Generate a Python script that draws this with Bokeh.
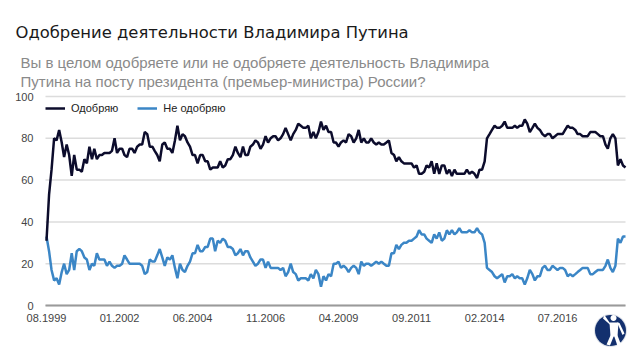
import numpy as np
import pandas as pd
from bokeh.plotting import figure
from bokeh.models import (Range1d, FixedTicker, DatetimeTickFormatter, Legend, LegendItem,
                          Label, PolyAnnotation, BoxAnnotation, ColumnDataSource)
from bokeh.embed import file_html
from bokeh.resources import INLINE

# ---------------- data (monthly, from 08.1999) ----------------
start_month = "1999-08-01"

approve_1999 = [31, 53, 65, 80, 79]
approve_2000 = [84, 78, 71, 77, 72, 62, 72, 65, 65, 64, 70, 68]
approve_2001 = [76, 70, 75, 70, 72, 72, 73, 73, 73, 74, 80, 73]
approve_2002 = [75, 75, 72, 71, 75, 75, 73, 76, 77, 77, 83, 82]
approve_2003 = [76, 76, 74, 72, 69, 77, 78, 75, 75, 73, 79, 86]
approve_2004 = [79, 82, 81, 78, 76, 72, 72, 68, 72, 72, 69, 69]
approve_2005 = [65, 66, 66, 66, 69, 66, 67, 70, 70, 72, 76, 73]
approve_2006 = [71, 76, 72, 72, 76, 77, 79, 78, 75, 77, 81, 78]
approve_2007 = [80, 81, 81, 79, 80, 82, 85, 82, 79, 82, 84, 87]
approve_2008 = [86, 85, 85, 86, 80, 83, 80, 83, 88, 84, 86, 83]
approve_2009 = [83, 78, 78, 76, 78, 79, 78, 82, 81, 78, 80, 84]
approve_2010 = [78, 80, 78, 78, 80, 78, 77, 78, 77, 77, 78, 79]
approve_2011 = [73, 72, 69, 71, 69, 68, 68, 68, 68, 66, 67, 63]
approve_2012 = [63, 64, 67, 66, 69, 63, 68, 63, 67, 67, 63, 65]
approve_2013 = [62, 65, 63, 63, 63, 63, 65, 63, 64, 63, 61, 65]
approve_2014 = [65, 69, 80, 82, 84, 86, 85, 85, 86, 88, 85, 85]
approve_2015 = [85, 86, 85, 86, 86, 89, 87, 83, 85, 87, 85, 84]
approve_2016 = [82, 81, 82, 82, 80, 81, 82, 82, 82, 84, 86, 85]
approve_2017 = [85, 84, 82, 82, 81, 81, 81, 83, 83, 83, 82, 81]
approve_2018 = [81, 77, 75, 80, 82, 80, 67, 70, 67, 66]

disapprove_1999 = [33, 26, 17, 12, 13]
disapprove_2000 = [10, 16, 20, 15, 17, 25, 17, 26, 27, 26, 23, 22]
disapprove_2001 = [17, 20, 19, 25, 22, 22, 22, 19, 21, 19, 18, 19]
disapprove_2002 = [19, 20, 24, 22, 20, 20, 20, 20, 20, 19, 15, 16]
disapprove_2003 = [22, 21, 21, 24, 27, 23, 19, 23, 22, 24, 18, 13]
disapprove_2004 = [20, 17, 16, 19, 21, 25, 25, 29, 26, 26, 28, 28]
disapprove_2005 = [32, 32, 26, 31, 30, 32, 31, 28, 28, 27, 24, 25]
disapprove_2006 = [27, 24, 26, 26, 23, 21, 19, 20, 22, 22, 18, 21]
disapprove_2007 = [18, 18, 18, 18, 17, 18, 14, 16, 20, 16, 15, 12]
disapprove_2008 = [13, 13, 13, 12, 15, 13, 17, 15, 9, 14, 12, 15]
disapprove_2009 = [14, 20, 20, 21, 18, 19, 18, 16, 18, 19, 18, 15]
disapprove_2010 = [21, 19, 20, 20, 19, 20, 21, 20, 21, 20, 19, 19]
disapprove_2011 = [25, 25, 29, 27, 29, 30, 30, 31, 31, 32, 33, 36]
disapprove_2012 = [34, 34, 32, 31, 30, 34, 32, 35, 31, 32, 36, 34]
disapprove_2013 = [36, 34, 35, 37, 35, 35, 35, 36, 35, 35, 37, 35]
disapprove_2014 = [34, 30, 18, 17, 16, 14, 13, 14, 15, 11, 14, 14]
disapprove_2015 = [15, 13, 14, 13, 13, 10, 13, 17, 15, 12, 14, 14]
disapprove_2016 = [18, 19, 17, 17, 19, 18, 17, 18, 18, 17, 14, 15]
disapprove_2017 = [14, 15, 16, 17, 18, 18, 18, 15, 15, 16, 17, 17]
disapprove_2018 = [17, 19, 22, 18, 16, 19, 32, 30, 33, 33]

x_tick_labels = ["08.1999", "01.2002", "06.2004", "11.2006", "04.2009",
                 "09.2011", "02.2014", "07.2016"]
y_ticks = [0, 20, 40, 60, 80, 100]

series_names = ["Одобряю", "Не одобряю"]
title_text = "Одобрение деятельности Владимира Путина"
subtitle_lines = ["Вы в целом одобряете или не одобряете деятельность Владимира",
                  "Путина на посту президента (премьер-министра) России?"]

approve = (approve_1999 + approve_2000 + approve_2001 + approve_2002 + approve_2003 +
           approve_2004 + approve_2005 + approve_2006 + approve_2007 + approve_2008 +
           approve_2009 + approve_2010 + approve_2011 + approve_2012 + approve_2013 +
           approve_2014 + approve_2015 + approve_2016 + approve_2017 + approve_2018)
disapprove = (disapprove_1999 + disapprove_2000 + disapprove_2001 + disapprove_2002 +
              disapprove_2003 + disapprove_2004 + disapprove_2005 + disapprove_2006 +
              disapprove_2007 + disapprove_2008 + disapprove_2009 + disapprove_2010 +
              disapprove_2011 + disapprove_2012 + disapprove_2013 + disapprove_2014 +
              disapprove_2015 + disapprove_2016 + disapprove_2017 + disapprove_2018)

n = min(len(approve), len(disapprove))
dates = pd.date_range(start_month, periods=n, freq="MS")
src = ColumnDataSource(dict(date=dates, approve=approve[:n], disapprove=disapprove[:n]))

# ---------------- geometry (canvas pixels) ----------------
W, H = 639, 355
PLOT_L, PLOT_R = 45, 625        # grid / axis extent
DATA_L, DATA_R = 46, 625        # first / last month
Y0_PX, Y100_PX = 305, 96        # rows of values 0 and 100

d0 = dates[0].value / 1e6
d1 = dates[-1].value / 1e6
ms_per_px = (d1 - d0) / (DATA_R - DATA_L)
x_start = d0 - DATA_L * ms_per_px
x_end = d0 + (W - DATA_L) * ms_per_px
px_per_unit = (Y0_PX - Y100_PX) / 100.0
y_top = Y0_PX / px_per_unit
y_bot = -(H - Y0_PX) / px_per_unit

# the frame fills the whole canvas; axes are pinned at the chart's edges
p = figure(width=W, height=H, x_axis_type="datetime", output_backend="svg",
           toolbar_location=None, title_location=None,
           x_range=Range1d(x_start, x_end), y_range=Range1d(y_bot, y_top),
           min_border=0, min_border_left=0, min_border_right=0,
           min_border_top=0, min_border_bottom=0)
p.outline_line_color = None
p.background_fill_color = "white"
p.border_fill_color = "white"
p.xgrid.grid_line_color = None
p.ygrid.grid_line_color = None

AX_FONT = "Liberation Sans"

# horizontal grid lines between the chart's left and right edges
for v in y_ticks:
    p.add_layout(BoxAnnotation(left=PLOT_L, right=PLOT_R, left_units="screen", right_units="screen",
                               bottom=v - 0.36, top=v + 0.36,
                               fill_color="#dcdcdc", fill_alpha=1.0, line_color=None,
                               level="underlay"))

# x axis at value 0
tick_ms = [pd.to_datetime(t, format="%m.%Y").value / 1e6 for t in x_tick_labels]
p.xaxis.fixed_location = 0
p.xaxis.bounds = (x_start + PLOT_L * ms_per_px, x_start + PLOT_R * ms_per_px)
p.xaxis.ticker = FixedTicker(ticks=tick_ms)
fmt = "%m.%Y"
p.xaxis.formatter = DatetimeTickFormatter(
    microseconds=fmt, milliseconds=fmt, seconds=fmt, minsec=fmt, minutes=fmt,
    hourmin=fmt, hours=fmt, days=fmt, months=fmt, years=fmt)
p.xaxis.axis_line_color = "#9a9a9a"
p.xaxis.axis_line_width = 2
p.xaxis.major_tick_line_color = None
p.xaxis.minor_tick_line_color = None
p.xaxis.major_tick_out = 0
p.xaxis.major_tick_in = 0
p.xaxis.major_label_standoff = 8
p.xaxis.major_label_text_font = AX_FONT
p.xaxis.major_label_text_font_size = "11px"
p.xaxis.major_label_text_color = "#444444"

# y axis at the chart's left edge
p.yaxis.fixed_location = x_start + PLOT_L * ms_per_px
p.yaxis.bounds = (0, 100)
p.yaxis.ticker = FixedTicker(ticks=y_ticks)
p.yaxis.axis_line_color = None
p.yaxis.major_tick_line_color = None
p.yaxis.minor_tick_line_color = None
p.yaxis.major_tick_out = 0
p.yaxis.major_tick_in = 0
p.yaxis.major_label_standoff = 12
p.yaxis.major_label_text_font = AX_FONT
p.yaxis.major_label_text_font_size = "11px"
p.yaxis.major_label_text_color = "#444444"

# lines
r_dis = p.line(x="date", y="disapprove", source=src, line_color="#3b86c6", line_width=2.5)
r_app = p.line(x="date", y="approve", source=src, line_color="#0c0c2c", line_width=2.5)

legend = Legend(items=[LegendItem(label=series_names[0], renderers=[r_app]),
                       LegendItem(label=series_names[1], renderers=[r_dis])],
                orientation="horizontal", location=(PLOT_L, H - 118),
                border_line_color=None, background_fill_alpha=0,
                padding=0, margin=0, spacing=19, glyph_width=20, glyph_height=20,
                label_standoff=6, label_height=20,
                label_text_font=AX_FONT, label_text_font_size="11px",
                label_text_color="#222222")
p.add_layout(legend)

# ---------------- title + subtitle ----------------
def sy(cy):
    return H - cy

p.add_layout(Label(x=15, y=sy(32), x_units="screen", y_units="screen",
                   text=title_text, text_font="DejaVu Sans", text_font_size="16.4px",
                   text_color="#1a1a1a", text_baseline="alphabetic"))
p.add_layout(Label(x=20, y=sy(62), x_units="screen", y_units="screen",
                   text=subtitle_lines[0], text_font="Liberation Sans", text_font_size="15px",
                   text_color="#8a8a8a", text_baseline="alphabetic"))
p.add_layout(Label(x=20, y=sy(81), x_units="screen", y_units="screen",
                   text=subtitle_lines[1], text_font="Liberation Sans", text_font_size="15px",
                   text_color="#8a8a8a", text_baseline="alphabetic"))

# ---------------- logo (decoration) ----------------
def poly(pts, color):
    p.add_layout(PolyAnnotation(xs=[a for a, b in pts], ys=[sy(b) for a, b in pts],
                                xs_units="screen", ys_units="screen",
                                fill_color=color, fill_alpha=1.0, line_color=None))

def circle_pts(cx, cy, r, k=40):
    t = np.linspace(0, 2 * np.pi, k, endpoint=False)
    return list(zip(cx + r * np.cos(t), cy + r * np.sin(t)))

poly(circle_pts(610, 330, 16.5), "#dfe3ea")
poly(circle_pts(610, 330, 15.5), "#13306e")
poly(circle_pts(613, 317.5, 3), "white")
poly([(609, 322), (618, 322), (617, 336), (610, 336)], "white")
poly([(610, 335), (613.5, 335), (609.5, 345), (606, 344)], "white")
poly([(613.5, 335), (617, 335), (620.5, 344), (617, 345.5)], "white")
poly([(609, 322), (611, 325.5), (602.5, 318), (604, 314.5)], "white")
poly([(616.5, 322), (619, 322.5), (624, 333), (622, 334.5)], "white")

open("out.html", "w").write(file_html(p, INLINE))
